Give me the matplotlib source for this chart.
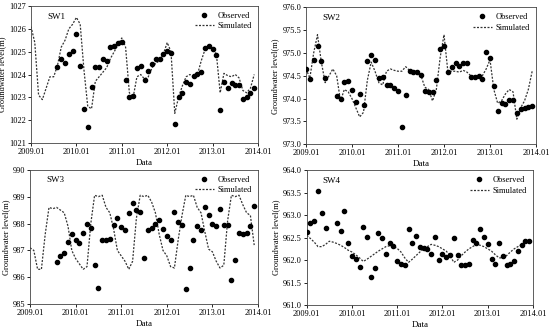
import matplotlib
matplotlib.use("Agg")
import matplotlib.pyplot as plt
import numpy as np

plt.rcParams['font.family'] = ['Liberation Serif', 'DejaVu Serif']

x_ticklabels = ["2009.01", "2010.01", "2011.01", "2012.01", "2013.01", "2014.01"]

# ---- SW1 ----
sw1_obs_months = list(range(7, 60))
sw1_obs = [1024.34, 1024.69, 1024.51, 1024.91, 1025.04, 1025.78, 1024.36, 1022.5, 1021.7, 1023.44,
           1024.32, 1024.32, 1024.67, 1024.6, 1025.2, 1025.23, 1025.37, 1025.42, 1023.76, 1023.03,
           1023.05, 1024.29, 1024.39, 1023.74, 1024.14, 1024.48, 1024.66, 1024.7, 1024.89, 1025.02,
           1024.96, 1021.83, 1023.0, 1023.21, 1023.66, 1023.57, 1023.95, 1024.04, 1024.09, 1025.16,
           1025.24, 1025.11, 1024.86, 1022.46, 1023.66, 1023.41, 1023.61, 1023.56, 1023.56, 1022.91,
           1023.0, 1023.19, 1023.43]
sw1_sim = [1026.1, 1025.4, 1023.1, 1022.9, 1023.4, 1023.9, 1023.9, 1024.4, 1025.2, 1025.5,
           1026.0, 1026.2, 1026.5, 1026.2, 1024.2, 1022.6, 1022.5, 1023.7, 1023.9, 1024.1,
           1024.3, 1024.7, 1025.0, 1025.3, 1025.6, 1025.2, 1023.2, 1023.0, 1023.9, 1024.0,
           1023.8, 1023.9, 1024.3, 1024.5, 1024.6, 1024.9, 1025.4, 1025.0, 1022.3, 1023.0,
           1023.5, 1023.9, 1024.0, 1023.9, 1024.0, 1024.6, 1025.1, 1025.2, 1025.1, 1024.9,
           1023.2, 1024.05, 1023.95, 1023.9, 1024.0, 1023.85, 1023.3, 1023.2, 1023.4, 1024.0]

# ---- SW2 ----
sw2_obs_months = [0, 1, 2, 3, 4, 5] + list(range(8, 60))
sw2_obs = [974.65, 974.44, 974.84, 975.15, 974.83, 974.45,
           974.06, 973.99, 974.37, 974.39, 974.19, 973.93, 974.10, 973.86, 974.82, 974.96,
           974.84, 974.45, 974.48, 974.30, 974.30, 974.23, 974.16, 973.38, 974.07, 974.6,
           974.59, 974.58, 974.51, 974.17, 974.15, 974.14, 974.41, 975.09, 975.16, 974.58,
           974.7, 974.79, 974.71, 974.77, 974.77, 974.48, 974.47, 974.49, 974.44, 975.03,
           974.9, 974.27, 973.72, 973.91, 973.88, 973.97, 973.96, 973.68, 973.77, 973.80,
           973.81, 973.84]
sw2_sim = [974.65, 974.45, 975.0, 975.4, 974.8, 974.35, 974.5, 974.65, 974.5, 973.95,
           974.2, 974.15, 974.0, 973.8, 973.6, 973.7, 974.4, 974.8, 974.6, 974.35,
           974.3, 974.6, 974.65, 974.62, 974.6, 974.6, 974.7, 974.62, 974.6, 974.6,
           974.5, 974.25, 974.2, 973.95, 974.2, 974.9, 975.4, 974.6, 974.6, 974.6,
           974.58, 974.62, 974.58, 974.5, 974.48, 974.48, 974.5, 974.65, 974.85, 974.2,
           973.9, 973.95, 974.1, 974.2, 974.15, 973.55, 973.8, 973.95, 974.2, 974.6]

# ---- SW3 ----
sw3_obs_months = list(range(7, 60))
sw3_obs = [986.56, 986.78, 986.92, 987.31, 987.61, 987.38, 987.28, 987.65, 988.0, 987.83,
           986.45, 985.62, 987.38, 987.38, 987.43, 987.93, 988.22, 987.87, 987.75, 988.38,
           988.75, 988.49, 988.43, 986.71, 987.77, 987.82, 987.98, 988.12, 987.78, 987.52,
           987.4, 988.44, 988.07, 987.95, 985.57, 986.36, 987.38, 987.9, 987.76, 988.6,
           988.33, 987.98, 987.91, 988.53, 987.96, 987.93, 985.89, 986.65, 987.64, 987.61,
           987.66, 987.9, 988.64]
sw3_sim = [987.1, 987.0, 986.3, 986.3, 987.6, 988.6, 988.55, 988.6, 988.5, 988.4,
           987.9, 987.0, 986.7, 986.5, 986.3, 986.4, 988.0, 989.05, 989.0, 989.05,
           988.6, 988.4, 987.8, 987.0, 986.8, 986.6, 986.3, 986.6, 988.2, 989.05,
           989.0, 989.05, 988.8, 988.4, 987.6, 987.0, 986.8, 986.4, 986.35, 987.4,
           988.3, 989.05, 989.0, 989.05, 988.6, 988.4, 987.7, 987.05, 986.95, 986.6,
           986.35, 986.45, 988.1, 989.05, 989.0, 989.05, 988.7, 988.4, 988.3, 987.2]

# ---- SW4 ----
sw4_obs_months = [0, 1, 2, 3, 4, 5] + list(range(8, 60))
sw4_obs = [962.63, 962.83, 962.86, 963.54, 963.04, 962.72,
           962.82, 962.64, 963.1, 962.38, 962.1, 962.03, 961.85, 962.74, 962.52, 961.63,
           961.83, 962.6, 962.49, 962.14, 962.37, 962.31, 961.97, 961.92, 961.88, 962.7,
           962.37, 962.54, 962.29, 962.28, 962.25, 962.14, 962.52, 962.0, 962.14, 962.06,
           962.12, 962.49, 962.11, 961.88, 961.88, 961.92, 962.45, 962.37, 962.69, 962.51,
           962.35, 962.03, 961.91, 962.39, 962.09, 961.89, 961.91, 961.97, 962.2, 962.34,
           962.42, 962.43]
sw4_sim = [962.55, 962.48, 962.4, 962.3, 962.3, 962.35, 962.42, 962.4, 962.37, 962.33,
           962.28, 962.22, 962.18, 962.12, 962.05, 961.97, 962.02, 962.08, 962.14, 962.2,
           962.25, 962.3, 962.32, 962.3, 962.26, 962.18, 962.05, 961.95, 962.02, 962.1,
           962.18, 962.25, 962.3, 962.35, 962.33, 962.3, 962.25, 962.2, 962.1, 961.95,
           962.0, 962.1, 962.18, 962.25, 962.3, 962.35, 962.33, 962.3, 962.25, 962.2,
           962.12, 962.05, 962.05, 962.1, 962.18, 962.25, 962.3, 962.35, 962.4, 962.42]

panels = [
    ("SW1", sw1_obs_months, sw1_obs, sw1_sim, (1021, 1027), np.arange(1021, 1027.5, 1), "%d",
     [31/550, 1 - 143/330, 227/550, 137/330]),
    ("SW2", sw2_obs_months, sw2_obs, sw2_sim, (973.0, 976.0), np.arange(973.0, 976.1, 0.5), "%.1f",
     [306/550, 1 - 144.3/330, 230/550, 137/330]),
    ("SW3", sw3_obs_months, sw3_obs, sw3_sim, (985, 990), np.arange(985, 990.5, 1), "%d",
     [30/550, 1 - 304.3/330, 228/550, 134.6/330]),
    ("SW4", sw4_obs_months, sw4_obs, sw4_sim, (961.0, 964.0), np.arange(961.0, 964.1, 0.5), "%.1f",
     [306.7/550, 1 - 305/330, 226.3/550, 134.7/330]),
]

fig = plt.figure(figsize=(5.5, 3.3), dpi=100)
fs = 6
for name, om, ov, sv, ylim, yt, fmt, rect in panels:
    ax = fig.add_axes(rect)
    sim_x = np.arange(len(sv)) / 12.0
    obs_x = np.array(om) / 12.0
    ax.plot(sim_x, sv, linestyle=(0, (1.6, 1.2)), color='#333333', lw=0.9, label='Simulated', zorder=2)
    ax.plot(obs_x, ov, 'o', color='black', markersize=3.0, linestyle='none', label='Observed', zorder=3)
    ax.set_xlim(0, 5)
    ax.set_ylim(*ylim)
    ax.set_xticks(range(6))
    ax.set_xticklabels(x_ticklabels)
    ax.set_yticks(yt)
    ax.set_yticklabels([fmt % v for v in yt])
    ax.tick_params(labelsize=fs, length=2, width=0.6, pad=1.5, direction='out')
    for sp in ax.spines.values():
        sp.set_linewidth(0.6)
        sp.set_color('#444444')
    ax.set_xlabel("Data", fontsize=fs + 0.5, labelpad=2)
    ax.set_ylabel("Groundwater level(m)", fontsize=fs, labelpad=2)
    ax.text(0.07, 0.92, name, transform=ax.transAxes, fontsize=fs + 0.5, va='center', ha='left')
    h, l = ax.get_legend_handles_labels()
    ax.legend([h[1], h[0]], [l[1], l[0]], loc='upper right', frameon=False, fontsize=fs,
              handlelength=2.2, borderaxespad=0.3, labelspacing=0.3, handletextpad=0.5)

fig.savefig("out.png", dpi=100)
